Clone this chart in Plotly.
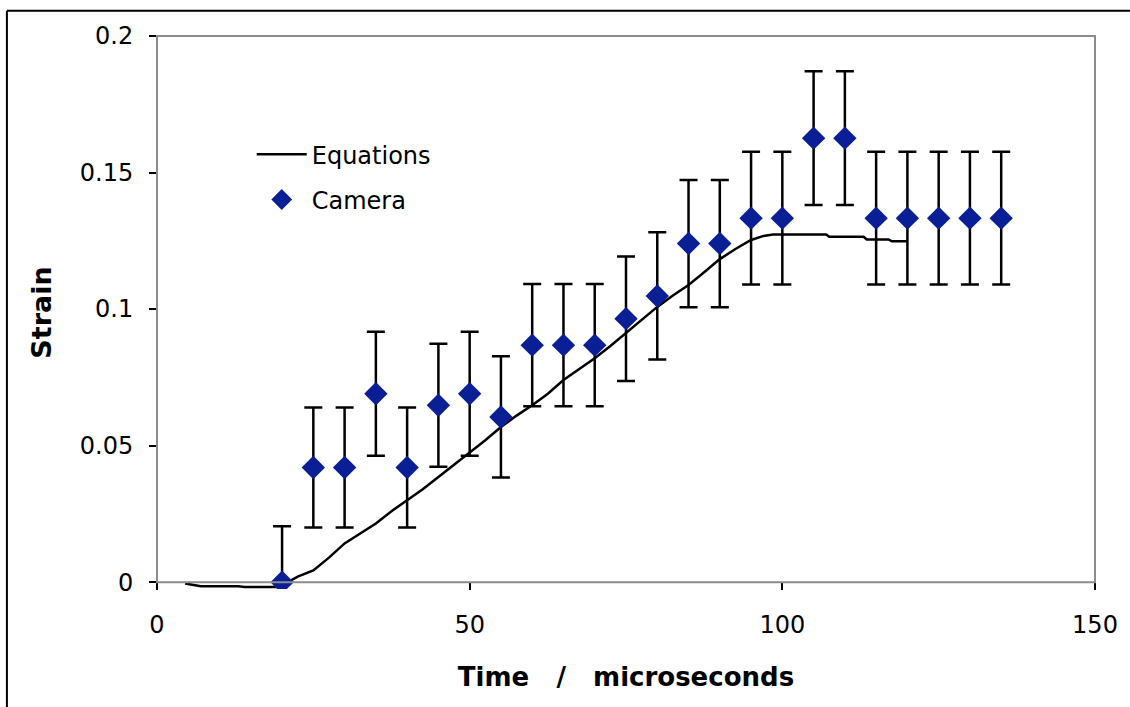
import plotly.graph_objects as go

# Camera measurements (time in microseconds, strain) with symmetric error
camera_t = [20, 25, 30, 35, 40, 45, 50, 55, 60, 65, 70, 75, 80, 85, 90, 95,
            100, 105, 110, 115, 120, 125, 130, 135]
camera_strain = [0.0, 0.042, 0.042, 0.069, 0.042, 0.0648, 0.069, 0.0605,
                 0.0868, 0.0868, 0.0868, 0.0965, 0.1048, 0.124, 0.124, 0.1333,
                 0.1333, 0.1626, 0.1626, 0.1333, 0.1333, 0.1333, 0.1333, 0.1333]
camera_err = [0.0205, 0.022, 0.022, 0.0227, 0.022, 0.0225, 0.0227, 0.0222,
              0.0224, 0.0224, 0.0224, 0.0228, 0.0233, 0.0233, 0.0233, 0.0243,
              0.0243, 0.0245, 0.0245, 0.0243, 0.0243, 0.0243, 0.0243, 0.0243]

# Strain predicted by the equations
eq_t = [4.5, 5.5, 7, 13, 14, 19.5, 21, 22.5, 25, 27.5, 30, 32.5, 35, 37.5,
        40, 42.5, 45, 47.5, 50, 52.5, 55, 57.5, 60, 62.5, 65, 67.5, 70, 72.5,
        75, 77.5, 80, 82.5, 85, 87.5, 90, 92.5, 95, 97, 98.5, 107, 107.5,
        113, 113.5, 117, 117.5, 120]
eq_strain = [-0.0005, -0.0008, -0.0015, -0.0015, -0.0018, -0.0018, 0.0, 0.002,
             0.0043, 0.009, 0.0142, 0.018, 0.0215, 0.026, 0.030, 0.034, 0.0385,
             0.043, 0.0473, 0.052, 0.0568, 0.061, 0.0648, 0.069, 0.074, 0.078,
             0.082, 0.0865, 0.0912, 0.096, 0.1008, 0.105, 0.1088, 0.1135,
             0.1183, 0.122, 0.1253, 0.1268, 0.1273, 0.1273, 0.1265, 0.1265,
             0.1255, 0.1255, 0.1248, 0.1248]

x_ticks = [0, 50, 100, 150]
y_ticks = [0, 0.05, 0.1, 0.15, 0.2]

FONT = "DejaVu Sans"

# A little room below zero so the slightly negative start of the curve shows
Y_MIN, Y_MAX = -0.0025, 0.2
zero_pos = (0 - Y_MIN) / (Y_MAX - Y_MIN)

fig = go.Figure()

fig.add_trace(go.Scatter(
    x=eq_t, y=eq_strain, mode="lines", name="Equations",
    line=dict(color="black", width=2.5),
    legendgroup="a",
))

fig.add_trace(go.Scatter(
    x=camera_t, y=camera_strain, mode="markers", name="Camera",
    marker=dict(symbol="diamond", size=18, color="#0a1e96",
                line=dict(width=0)),
    error_y=dict(type="data", array=camera_err, visible=True,
                 color="black", thickness=2.5, width=9),
    legendgroup="b",
))

axis_common = dict(
    showgrid=False, zeroline=False, showline=False,
    ticks="outside", ticklen=7, tickwidth=1.5, tickcolor="black",
    tickfont=dict(family=FONT, size=24, color="black"),
)

fig.update_xaxes(
    range=[0, 150], tickvals=x_ticks, **axis_common,
    anchor="free", position=zero_pos, ticklabelstandoff=14,
    title=dict(text="<b>Time   /   microseconds</b>",
               font=dict(family=FONT, size=26, color="black"), standoff=29),
)
fig.update_yaxes(
    range=[Y_MIN, Y_MAX], tickvals=y_ticks, **axis_common,
    ticklabelstandoff=11,
    title=dict(text="<b>Strain</b>",
               font=dict(family=FONT, size=27, color="black"), standoff=20),
)

# Plot frame from zero strain up to the top of the axis
fig.add_shape(type="rect", xref="paper", yref="paper",
              x0=0, x1=1, y0=zero_pos, y1=1,
              line=dict(color="#8c8c8c", width=2), layer="above")

# Outer frame around the figure (top and left edges visible)
fig.add_shape(type="line", xref="paper", yref="paper",
              x0=-0.16, x1=1.1, y0=1.0458, y1=1.0458,
              line=dict(color="black", width=2))
fig.add_shape(type="line", xref="paper", yref="paper",
              x0=-0.16, x1=-0.16, y0=1.0458, y1=-0.3,
              line=dict(color="black", width=2))

fig.update_layout(
    width=1130, height=707,
    margin=dict(l=157, r=35, t=36, b=118),
    paper_bgcolor="white", plot_bgcolor="white",
    showlegend=True,
    legend=dict(
        x=0.101, y=0.826, xanchor="left", yanchor="top",
        font=dict(family=FONT, size=24, color="black"),
        bgcolor="rgba(0,0,0,0)", borderwidth=0,
        traceorder="grouped", tracegroupgap=11,
        itemwidth=50,
    ),
)

fig.write_html("out.html")
